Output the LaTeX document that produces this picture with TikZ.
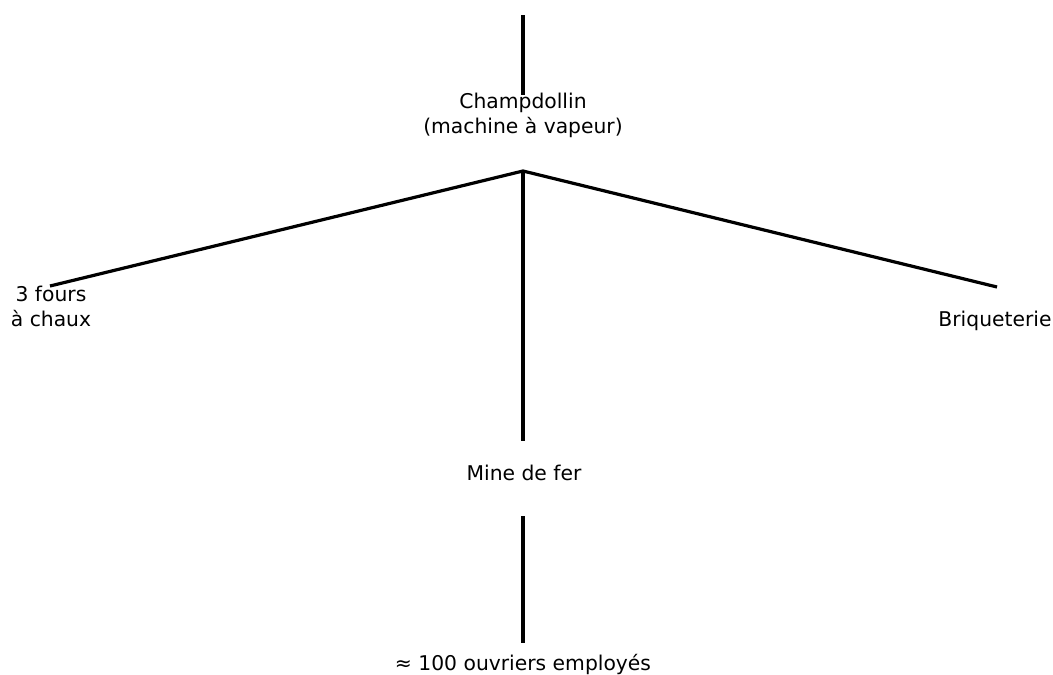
\documentclass[tikz,border=0pt]{standalone}
\usepackage{fontspec}
\setmainfont{DejaVu Sans}
\begin{document}
\begin{tikzpicture}[x=1pt,y=-1pt,
  lbl/.style={inner sep=0pt, align=center, font=\fontsize{20.3}{25}\selectfont},
  link/.style={line width=3.2pt, black}]
\useasboundingbox (0,0) rectangle (1053,675);
% coordinates
\coordinate (top) at (523,15);
\coordinate (topend) at (523,95);
\coordinate (apex) at (523,171);
\coordinate (leftend) at (50,286);
\coordinate (rightend) at (997,287);
\coordinate (midend) at (523,441);
\coordinate (lowstart) at (523,516);
\coordinate (lowend) at (523,643);
% labels
\node[lbl] (champ) at (523,115) {Champdollin\\(machine à vapeur)};
\node[lbl] (fours) at (51,306) {3 fours\\à chaux};
\node[lbl, anchor=base] (briq) at (995,326) {Briqueterie};
\node[lbl, anchor=base] (mine) at (524,480) {Mine de fer};
\node[lbl, anchor=base] (ouv) at (523,670) {≈ 100 ouvriers employés};
% connectors
\draw[link] (top) -- (topend);
\draw[link] (leftend) -- (apex) -- (rightend);
\draw[link] (apex) -- (midend);
\draw[link] (lowstart) -- (lowend);
\end{tikzpicture}
\end{document}
